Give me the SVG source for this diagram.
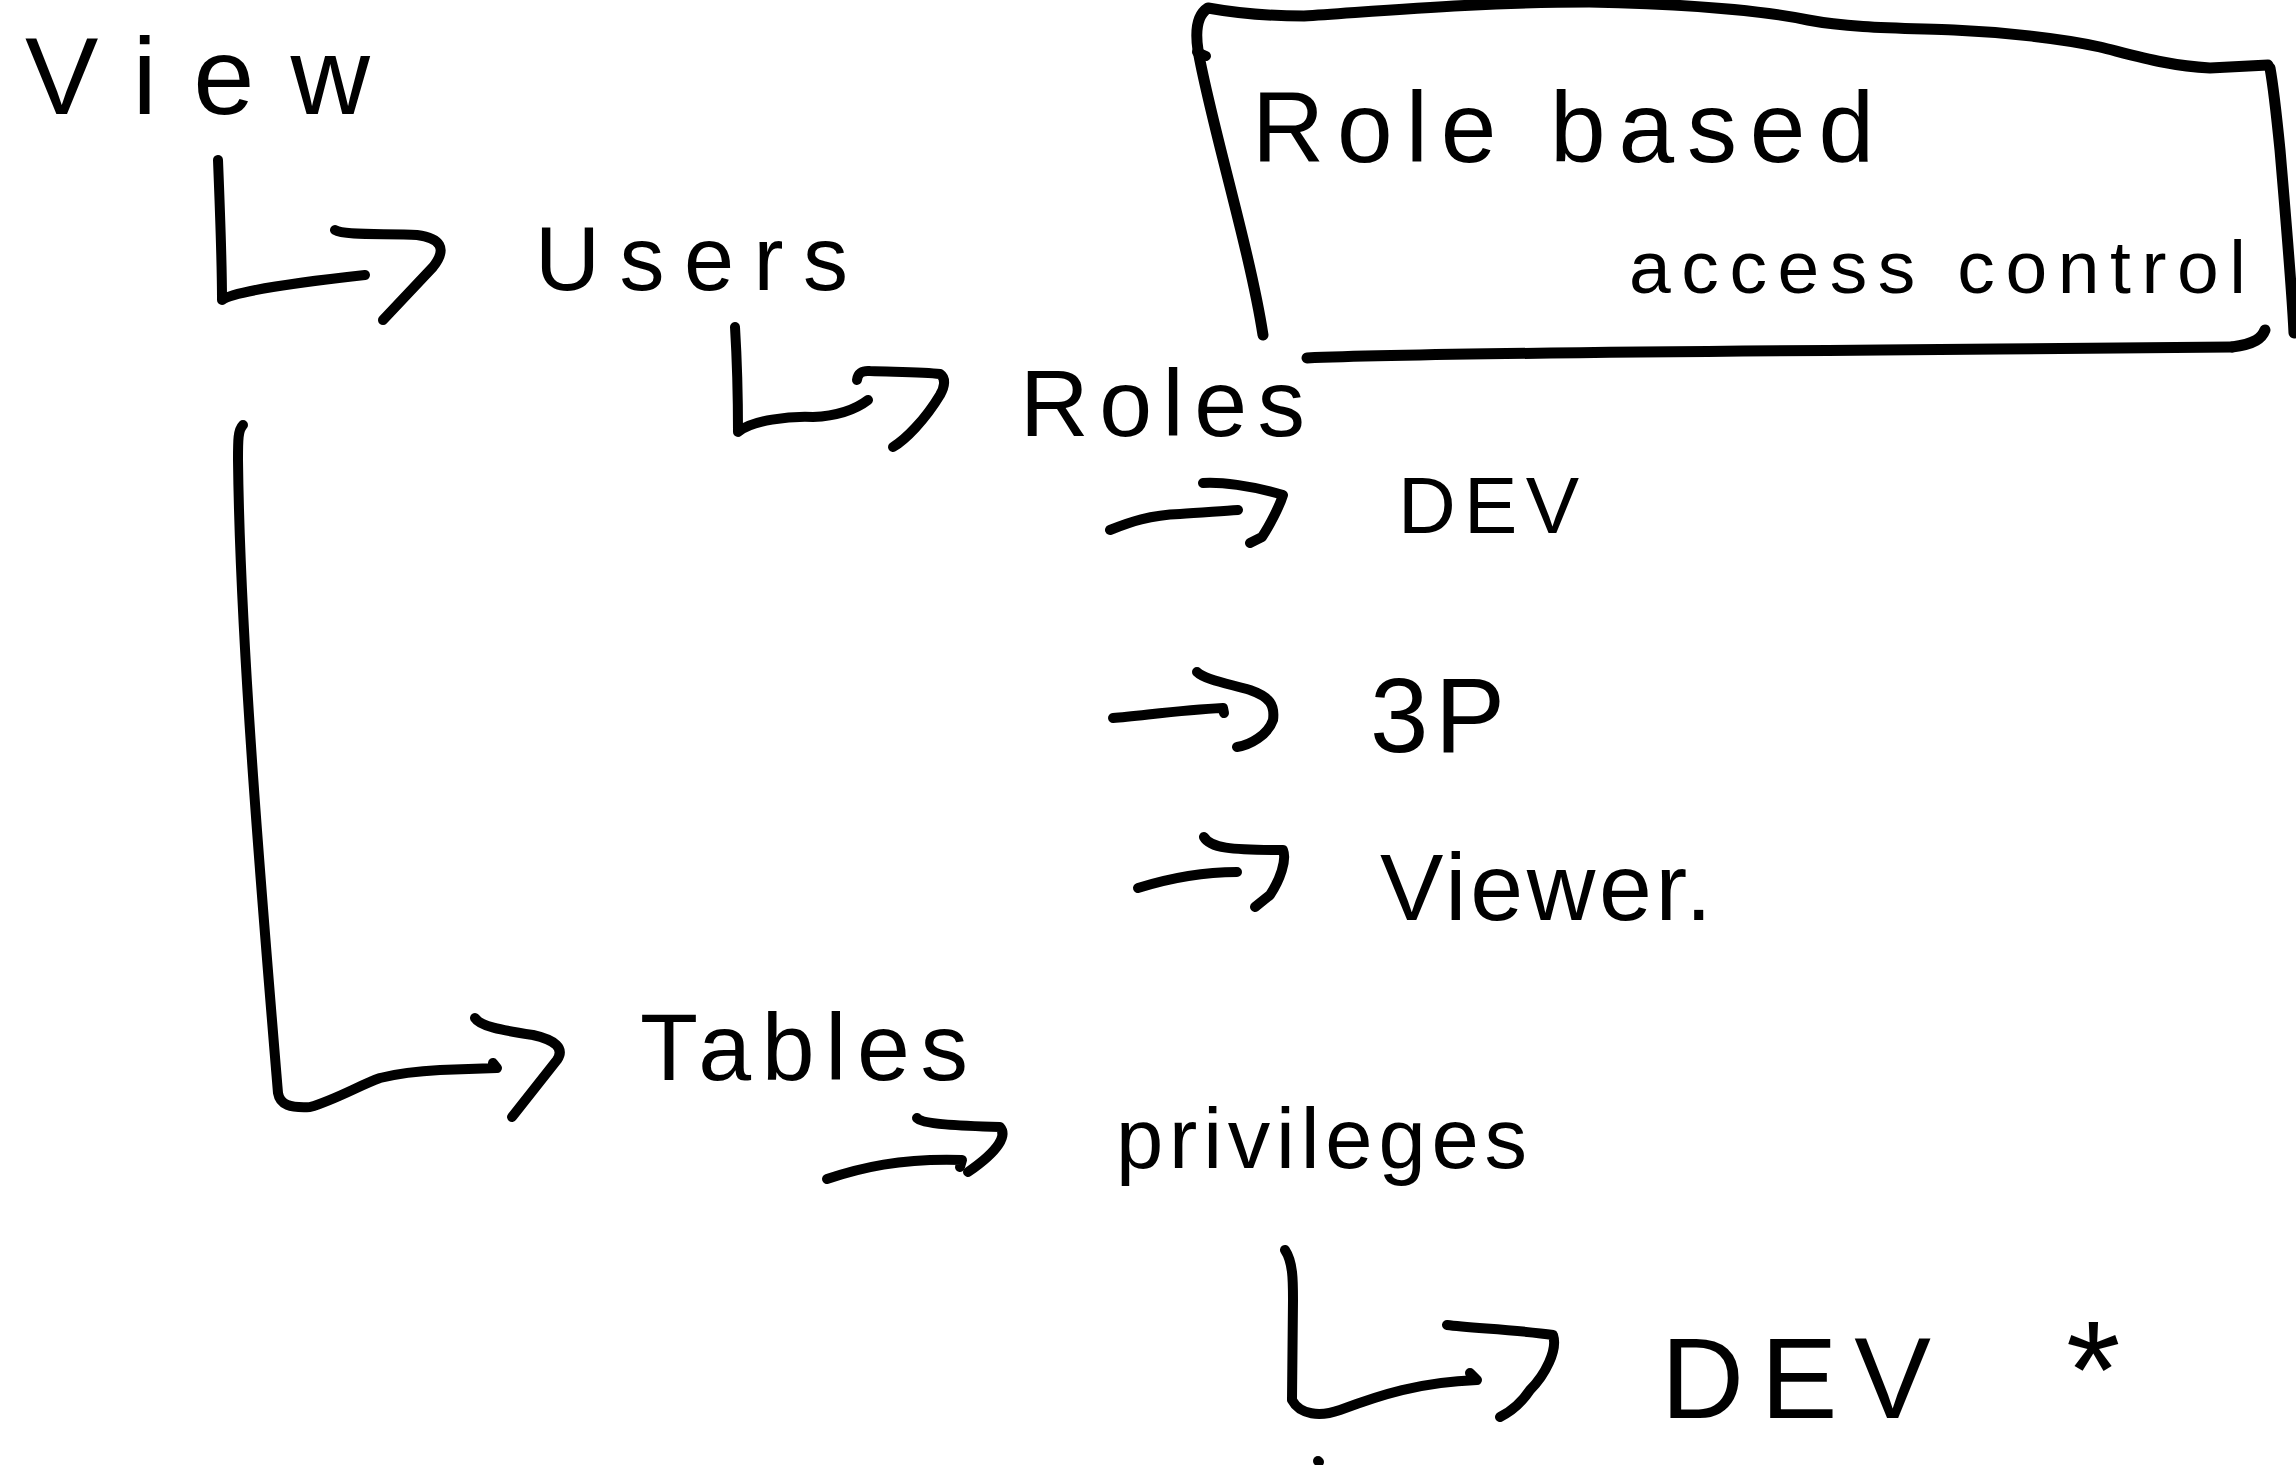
<svg xmlns="http://www.w3.org/2000/svg" width="2296" height="1465" viewBox="0 0 2296 1465">
<style>
.ink{fill:none;stroke:#000;stroke-width:10;stroke-linecap:round;stroke-linejoin:round}
.box{fill:none;stroke:#000;stroke-width:11;stroke-linecap:round;stroke-linejoin:round}
.lbl{font-family:"Liberation Sans",Arial,sans-serif;fill:#000}
</style>
<rect width="2296" height="1465" fill="#fff"/>
<g id="connectors">
  <path class="ink" d="M218,160 C220,210 222,260 222,300 C232,292 300,282 365,275"/>
  <path class="ink" d="M335,230 C345,236 390,233 417,235 C440,238 448,248 433,267 L383,320"/>
  <path class="ink" d="M735,327 C737,360 738,400 738,432 C752,420 790,416 813,417 C835,416 855,410 868,400"/>
  <path class="ink" d="M857,380 Q858,370 870,371 C900,372 925,372 940,374 C946,378 945,386 940,395 C925,420 905,440 893,447"/>
  <path class="ink" d="M243,425 C238,430 238,440 238,460 C240,640 262,900 278,1093 C280,1105 290,1108 310,1107 C335,1100 360,1085 380,1078 C400,1073 420,1071 440,1070 L497,1068 L493,1063"/>
  <path class="ink" d="M475,1018 C480,1026 500,1030 533,1035 C555,1040 565,1048 557,1060 L512,1117"/>
  <path class="ink" d="M1110,530 C1130,522 1150,515 1180,514 C1200,513 1220,511 1238,510"/>
  <path class="ink" d="M1203,483 C1220,482 1250,485 1283,495 C1280,505 1270,525 1262,537 L1250,543"/>
  <path class="ink" d="M1113,718 C1140,716 1180,710 1223,708 L1224,713"/>
  <path class="ink" d="M1197,672 C1205,680 1230,684 1250,690 C1270,697 1275,705 1273,720 C1268,735 1250,745 1237,747"/>
  <path class="ink" d="M1138,888 C1170,878 1200,872 1237,872"/>
  <path class="ink" d="M1204,837 C1210,848 1230,850 1283,850 C1287,860 1280,880 1270,895 L1255,907"/>
  <path class="ink" d="M827,1179 C860,1168 900,1158 962,1160 L960,1167"/>
  <path class="ink" d="M917,1118 C922,1124 960,1126 1000,1127 C1007,1135 1000,1150 968,1172"/>
  <path class="ink" d="M1285,1250 C1293,1262 1293,1280 1293,1300 L1292,1400 C1300,1415 1320,1417 1340,1410 C1380,1395 1420,1382 1477,1380 L1470,1373"/>
  <path class="ink" d="M1447,1325 C1470,1328 1520,1330 1553,1335 C1558,1350 1545,1375 1530,1390 C1520,1405 1510,1412 1500,1417"/>
  <path class="ink" d="M1318,1461 L1319,1462"/>
</g>
<g id="rbac-box">
  <path class="box" d="M1263,335 C1250,250 1210,120 1198,50 C1195,30 1197,15 1208,8 C1230,12 1260,16 1304,16 C1370,12 1480,2 1589,2 C1680,4 1760,10 1808,20 C1850,28 1900,28 1954,30 C2000,32 2060,38 2100,47 C2140,57 2170,66 2210,68 L2268,65"/>
  <path class="box" d="M2270,68 C2274,90 2276,110 2280,150 C2286,220 2292,290 2294,333"/>
  <path class="box" d="M2265,330 C2262,338 2255,344 2232,347"/>
  <path class="box" d="M1307,358 C1400,354 1600,352 1881,350 C2000,349 2150,348 2232,347"/>
  <path class="ink" d="M1197,52 L1206,56"/>
  <text class="lbl" x="1252" y="162" font-size="100" textLength="622" lengthAdjust="spacing">Role based</text>
  <text class="lbl" x="1629" y="293" font-size="75" textLength="617" lengthAdjust="spacing">access control</text>
</g>
<g id="node-view"><text class="lbl" x="25" y="114" font-size="110" textLength="345" lengthAdjust="spacing">View</text></g>
<g id="node-users"><text class="lbl" x="535" y="290" font-size="90" textLength="313" lengthAdjust="spacing">Users</text></g>
<g id="node-roles"><text class="lbl" x="1020" y="436" font-size="95" textLength="285" lengthAdjust="spacing">Roles</text></g>
<g id="node-dev"><text class="lbl" x="1398" y="533" font-size="80" textLength="181" lengthAdjust="spacing">DEV</text></g>
<g id="node-3p"><text class="lbl" x="1370" y="752" font-size="105" textLength="135" lengthAdjust="spacing">3P</text></g>
<g id="node-viewer"><text class="lbl" x="1380" y="920" font-size="95" textLength="332" lengthAdjust="spacing">Viewer.</text></g>
<g id="node-tables"><text class="lbl" x="640" y="1080" font-size="95" textLength="328" lengthAdjust="spacing">Tables</text></g>
<g id="node-privileges"><text class="lbl" x="1116" y="1168" font-size="85" textLength="411" lengthAdjust="spacing">privileges</text></g>
<g id="node-dev2"><text class="lbl" x="1661" y="1418" font-size="115" textLength="270" lengthAdjust="spacing">DEV</text></g>
<g id="node-star"><text class="lbl" x="2066" y="1418" font-size="140">*</text></g>
</svg>
